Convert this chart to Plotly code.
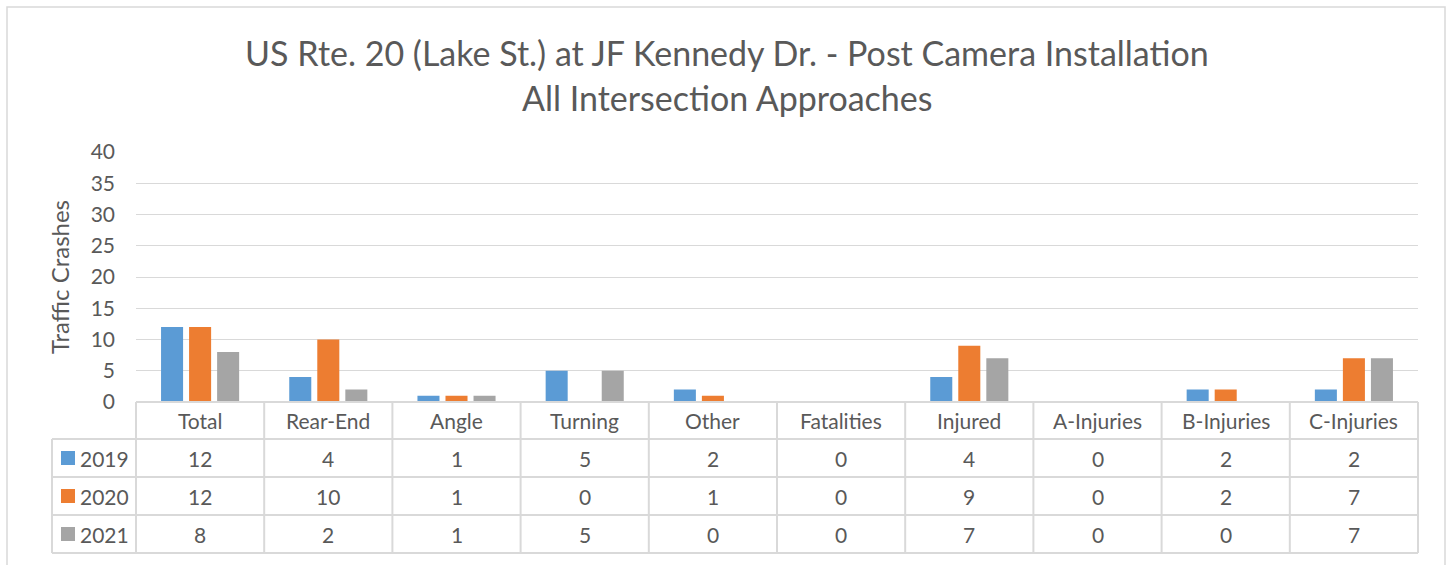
import plotly.graph_objects as go

categories = ["Total", "Rear-End", "Angle", "Turning", "Other", "Fatalities",
              "Injured", "A-Injuries", "B-Injuries", "C-Injuries"]
years = ["2019", "2020", "2021"]
v2019 = [12, 4, 1, 5, 2, 0, 4, 0, 2, 2]
v2020 = [12, 10, 1, 0, 1, 0, 9, 0, 2, 7]
v2021 = [8, 2, 1, 5, 0, 0, 7, 0, 0, 7]
colors = ["#5B9BD5", "#ED7D31", "#A5A5A5"]
y_ticks = [0, 5, 10, 15, 20, 25, 30, 35, 40]
title_lines = ["US Rte. 20 (Lake St.) at JF Kennedy Dr. - Post Camera Installation",
               "All Intersection Approaches"]
y_title = "Traffic Crashes"

W, H = 1448, 565
L, R, T, B = 136, 1418, 152, 402
FONT = "Lato"
TXT = "#595959"
GRID = "#D9D9D9"

def px(x):
    return (x - L) / (R - L)

def py(y):
    return (B - y) / (B - T)

series = [v2019, v2020, v2021]
fig = go.Figure()
for name, vals, c in zip(years, series, colors):
    fig.add_trace(go.Bar(x=categories, y=vals, name=name, marker_color=c,
                         marker_line_width=0, showlegend=False))

fig.update_layout(
    width=W, height=H,
    margin=dict(l=L, r=W - R, t=T, b=H - B, autoexpand=False),
    paper_bgcolor="white", plot_bgcolor="white",
    barmode="group", bargap=0.344, bargroupgap=0.214,
    font=dict(family=FONT, color=TXT, size=18),
    xaxis=dict(showticklabels=False, showgrid=False, zeroline=False,
               showline=False, ticks=""),
    yaxis=dict(range=[0, 40], tickvals=y_ticks, showgrid=True, gridcolor=GRID,
               gridwidth=1, zeroline=False, showline=False, ticks="",
               tickfont=dict(size=21, color=TXT), ticklabelstandoff=20),
)

shapes = []
ann = []
# outer chart border
shapes.append(dict(type="rect", xref="paper", yref="paper",
                   x0=px(7), x1=px(1445), y0=py(575), y1=py(7),
                   line=dict(color=GRID, width=1.5), fillcolor="rgba(0,0,0,0)",
                   layer="below"))

# table
rows_y = [402, 439, 477, 515, 553]
ncat = len(categories)
colw = (R - L) / ncat
leg_left = 52
tcol = "#D9D9D9"
TS = 21
shapes.append(dict(type="line", xref="paper", yref="paper", x0=px(L), x1=px(R),
                   y0=py(402), y1=py(402), line=dict(color=tcol, width=2)))
for yy in rows_y[1:]:
    shapes.append(dict(type="line", xref="paper", yref="paper", x0=px(leg_left), x1=px(R),
                       y0=py(yy), y1=py(yy), line=dict(color=tcol, width=2)))
for i in range(ncat + 1):
    xx = L + i * colw
    shapes.append(dict(type="line", xref="paper", yref="paper", x0=px(xx), x1=px(xx),
                       y0=py(402), y1=py(553), line=dict(color=tcol, width=2)))
shapes.append(dict(type="line", xref="paper", yref="paper", x0=px(leg_left), x1=px(leg_left),
                   y0=py(439), y1=py(553), line=dict(color=tcol, width=2)))

hy = (rows_y[0] + rows_y[1]) / 2
for i, c in enumerate(categories):
    ann.append(dict(x=px(L + (i + 0.5) * colw), y=py(hy), xref="paper", yref="paper",
                    text=c, showarrow=False, xanchor="center", yanchor="middle",
                    font=dict(size=TS, color=TXT, family=FONT)))
for r, (name, vals, c) in enumerate(zip(years, series, colors)):
    cy = (rows_y[r + 1] + rows_y[r + 2]) / 2
    shapes.append(dict(type="rect", xref="paper", yref="paper",
                       x0=px(61), x1=px(75), y0=py(cy + 7), y1=py(cy - 7),
                       fillcolor=c, line=dict(width=0)))
    ann.append(dict(x=px(78), y=py(cy), xref="paper", yref="paper", text=name,
                    showarrow=False, xanchor="left", yanchor="middle",
                    font=dict(size=TS, color=TXT, family=FONT)))
    for i, v in enumerate(vals):
        ann.append(dict(x=px(L + (i + 0.5) * colw), y=py(cy), xref="paper", yref="paper",
                        text=str(v), showarrow=False, xanchor="center", yanchor="middle",
                        font=dict(size=TS, color=TXT, family=FONT)))

for line, yy in zip(title_lines, [52, 97]):
    ann.append(dict(x=px(727), y=py(yy), xref="paper", yref="paper", text=line,
                    showarrow=False, xanchor="center", yanchor="middle",
                    font=dict(size=34, color=TXT, family=FONT)))
ann.append(dict(x=px(59), y=py(277), xref="paper", yref="paper", text=y_title,
                showarrow=False, textangle=-90, xanchor="center", yanchor="middle",
                font=dict(size=24, color=TXT, family=FONT)))

fig.update_layout(shapes=shapes, annotations=ann)
fig.write_html("out.html", config={"displayModeBar": False},
               post_script="document.body.style.margin='0';")
